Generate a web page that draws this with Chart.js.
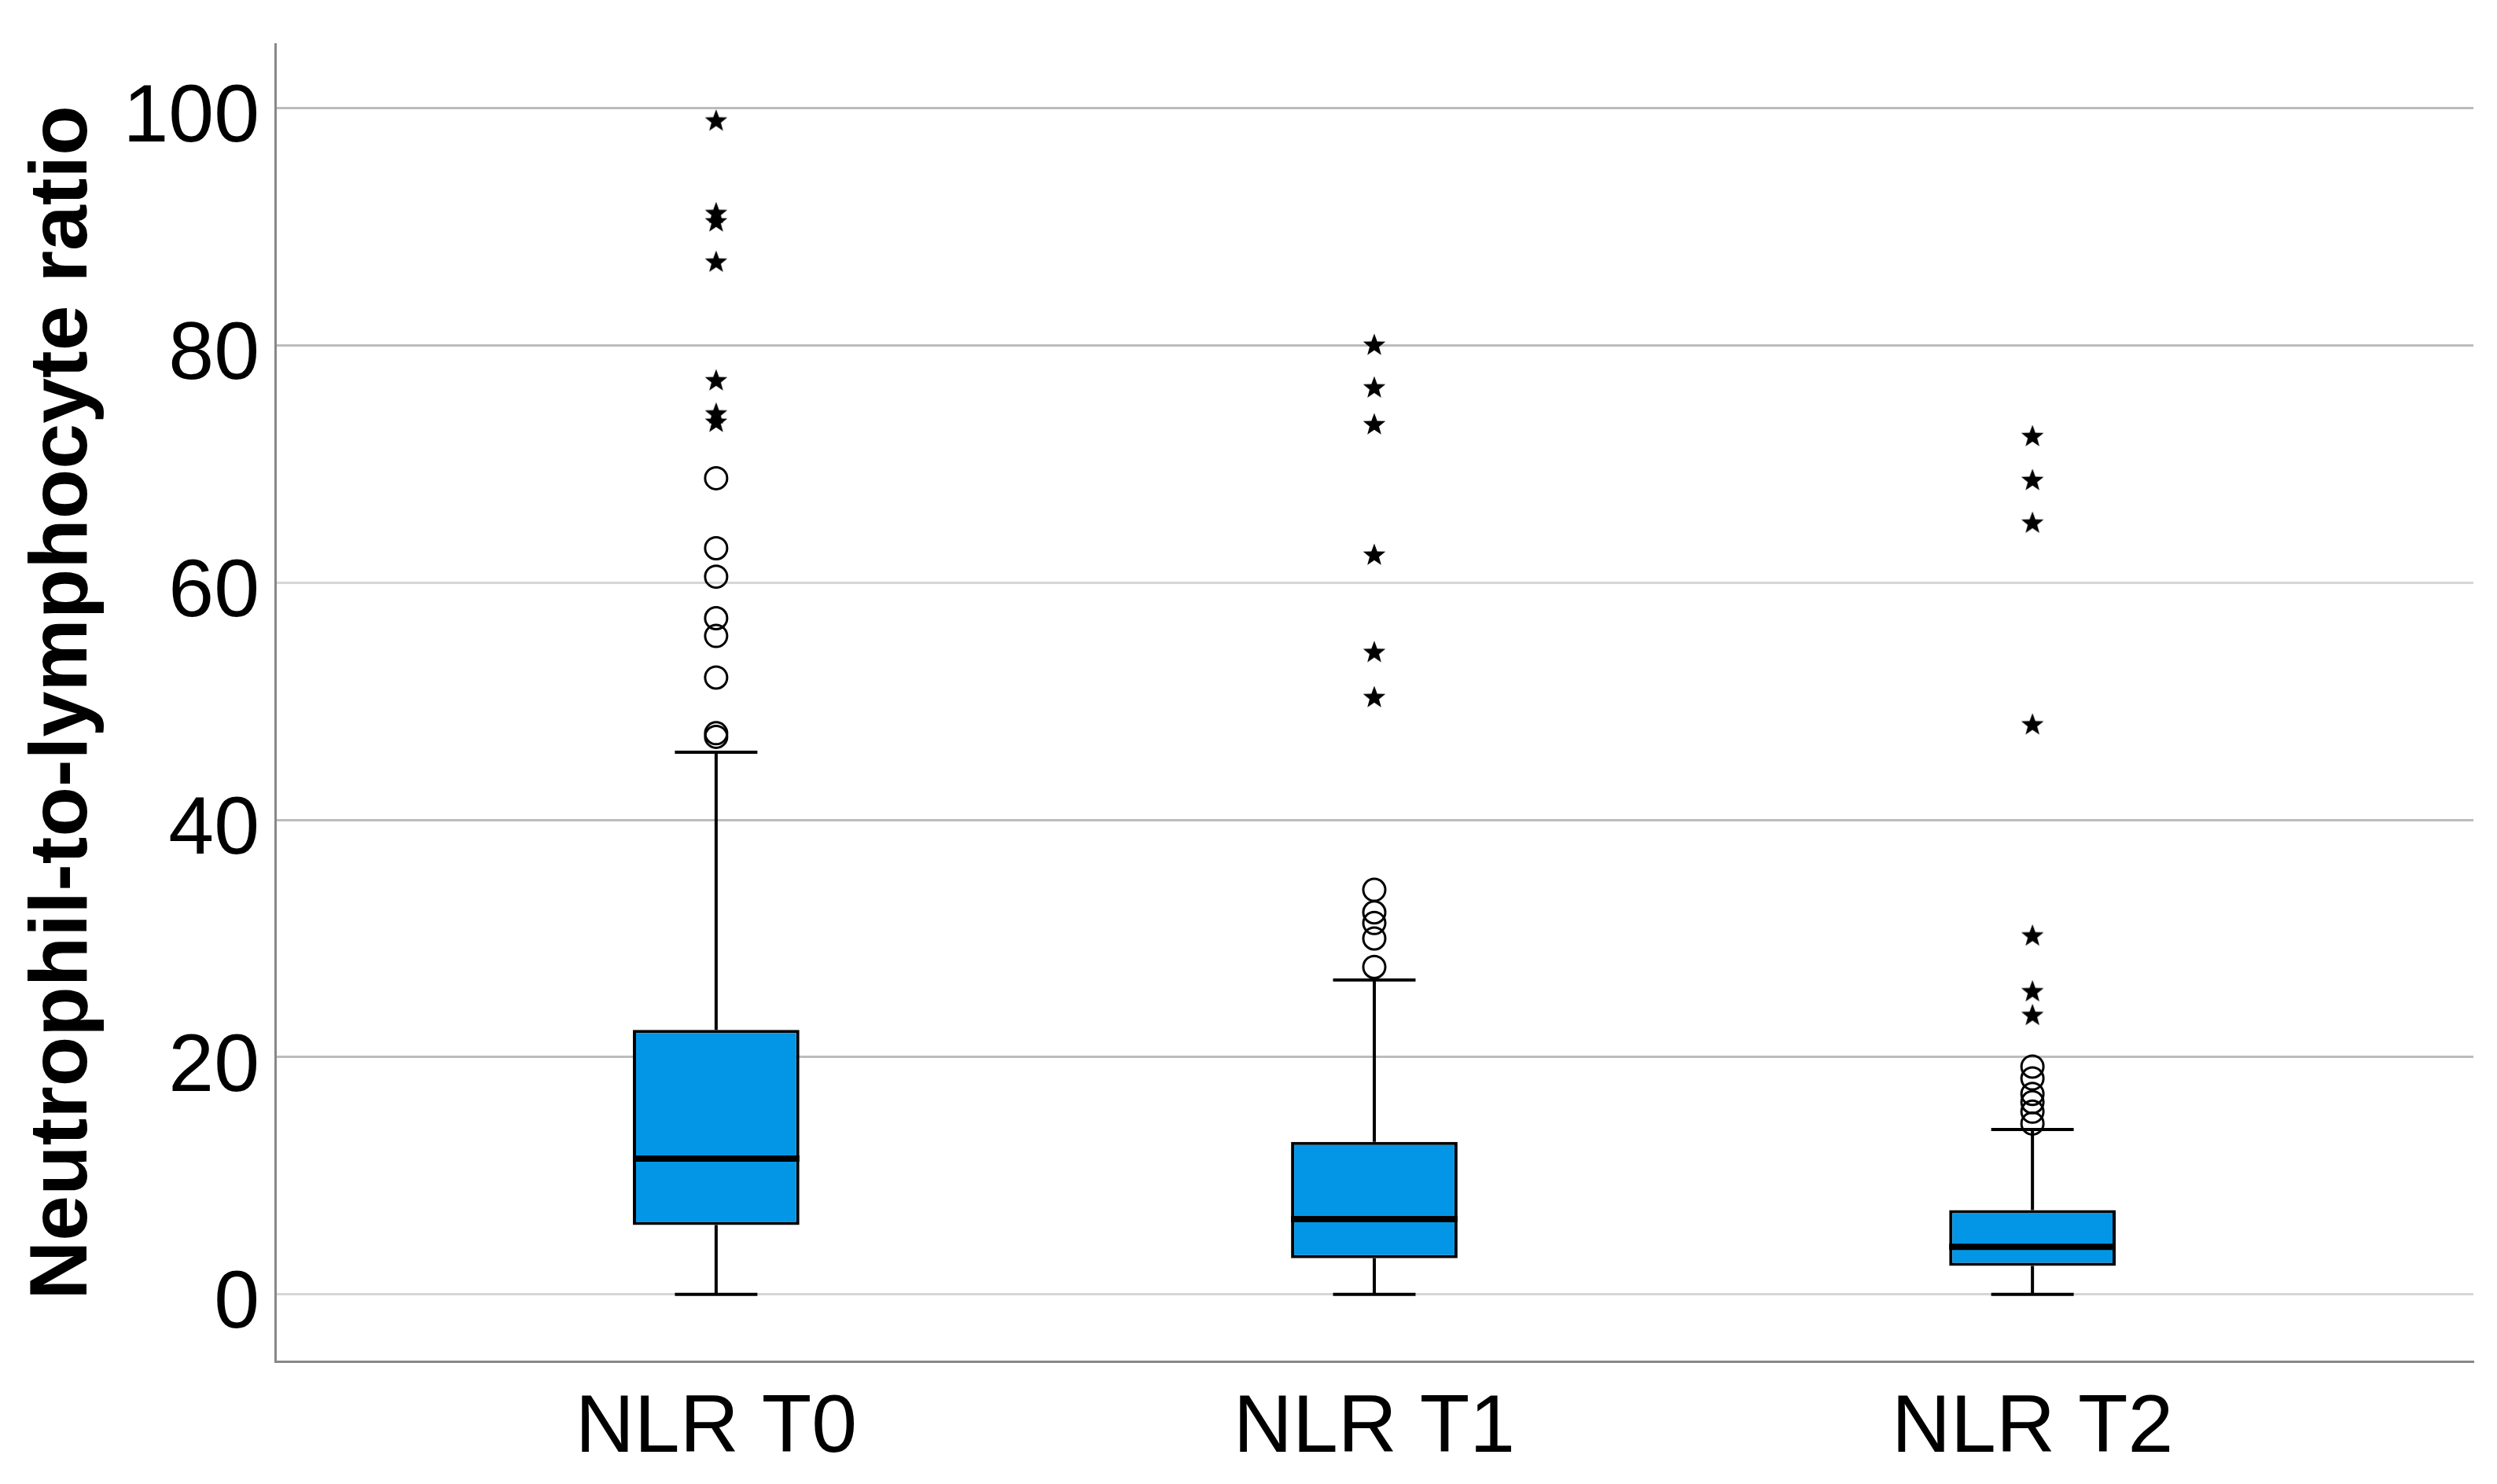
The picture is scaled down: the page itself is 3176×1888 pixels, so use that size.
<!DOCTYPE html>
<html>
<head>
<meta charset="utf-8">
<script src="https://cdn.jsdelivr.net/npm/chart.js@4.4.1/dist/chart.umd.min.js"></script>
<style>
    html, body { margin: 0; padding: 0; background: #fff; }
    #wrap { width: 3176px; height: 1888px; position: relative; }
</style>
</head>
<body>
<div id="wrap"><canvas id="boxChart"></canvas></div>
<script>
// --- Data ---
const groups = ['NLR T0', 'NLR T1', 'NLR T2'];
const whiskerLow = [0, 0, 0];
const quartile1 = [5.85, 3.05, 2.4];
const medians = [11.45, 6.34, 4.0];
const quartile3 = [22.3, 12.85, 7.1];
const whiskerHigh = [45.7, 26.5, 13.9];

// circles = outliers, stars = extreme values
const mildOutliers = [
    [68.8, 62.9, 60.5, 57.0, 55.5, 52.0, 47.3, 47.0],
    [34.1, 32.2, 31.3, 30.0, 27.6],
    [19.2, 18.2, 16.9, 16.2, 15.4, 14.4]
];
const extremeOutliers = [
    [99.0, 91.2, 90.5, 87.1, 77.1, 74.3, 73.6],
    [80.1, 76.5, 73.4, 62.4, 54.2, 50.4],
    [72.4, 68.7, 65.1, 48.1, 30.3, 25.6, 23.6]
];
const yTicks = [0, 20, 40, 60, 80, 100];

// --- Style constants ---
const BOX_WIDTH = 0.253;   // in category units
const CAP_HALF = 0.0627;
const BOX_COLOR = '#0396e6';
const FONT = "'Liberation Sans', Arial, sans-serif";

// Filled five-point star used as point image
function makeStar(r) {
    const c = document.createElement('canvas');
    const s = Math.ceil(r * 2 + 2);
    c.width = s;
    c.height = s;
    const g = c.getContext('2d');
    g.translate(s / 2, s / 2 + r * 0.1);
    g.beginPath();
    for (let k = 0; k < 10; k++) {
        const rad = k % 2 ? r * 0.42 : r;
        const a = -Math.PI / 2 + k * Math.PI / 5;
        g.lineTo(rad * Math.cos(a), rad * Math.sin(a));
    }
    g.closePath();
    g.fillStyle = '#000';
    g.fill();
    return c;
}

// Build datasets from the arrays
const boxData = groups.map((_, i) => ({ x: i, y: [quartile1[i], quartile3[i]] }));

const whiskerData = [];
groups.forEach((_, i) => {
    whiskerData.push({ x: i, y: quartile3[i] }, { x: i, y: whiskerHigh[i] }, { x: i, y: null });
    whiskerData.push({ x: i, y: quartile1[i] }, { x: i, y: whiskerLow[i] }, { x: i, y: null });
    whiskerData.push({ x: i - CAP_HALF, y: whiskerHigh[i] }, { x: i + CAP_HALF, y: whiskerHigh[i] }, { x: i, y: null });
    whiskerData.push({ x: i - CAP_HALF, y: whiskerLow[i] }, { x: i + CAP_HALF, y: whiskerLow[i] }, { x: i, y: null });
});

const medianData = [];
groups.forEach((_, i) => {
    medianData.push({ x: i - BOX_WIDTH / 2, y: medians[i] }, { x: i + BOX_WIDTH / 2, y: medians[i] }, { x: i, y: null });
});

const circleData = mildOutliers.flatMap((vals, i) => vals.map(v => ({ x: i, y: v })));
const starData = extremeOutliers.flatMap((vals, i) => vals.map(v => ({ x: i, y: v })));

const ctx = document.getElementById('boxChart').getContext('2d');
new Chart(ctx, {
    type: 'bar',
    data: {
        datasets: [
            {
                type: 'bar',
                label: 'IQR',
                data: boxData,
                backgroundColor: BOX_COLOR,
                borderColor: '#000',
                borderWidth: 4,
                borderSkipped: false,
                barPercentage: BOX_WIDTH,
                categoryPercentage: 1,
                order: 3
            },
            {
                type: 'line',
                label: 'whiskers',
                data: whiskerData,
                borderColor: '#000',
                borderWidth: 4,
                borderCapStyle: 'butt',
                pointRadius: 0,
                spanGaps: false,
                tension: 0,
                order: 2
            },
            {
                type: 'line',
                label: 'median',
                data: medianData,
                borderColor: '#000',
                borderWidth: 8,
                borderCapStyle: 'butt',
                pointRadius: 0,
                spanGaps: false,
                tension: 0,
                order: 1
            },
            {
                type: 'scatter',
                label: 'outliers',
                data: circleData,
                pointStyle: 'circle',
                pointRadius: 14,
                borderWidth: 3,
                borderColor: '#000',
                backgroundColor: 'rgba(0,0,0,0)',
                order: 0
            },
            {
                type: 'scatter',
                label: 'extremes',
                data: starData,
                pointStyle: makeStar(15),
                pointRadius: 15,
                order: 0
            }
        ]
    },
    options: {
        responsive: true,
        maintainAspectRatio: false,
        devicePixelRatio: 1,
        animation: false,
        layout: { padding: { top: 56, right: 30, left: 0, bottom: 0 } },
        plugins: {
            legend: { display: false },
            tooltip: { enabled: false }
        },
        scales: {
            x: {
                type: 'linear',
                min: -0.67,
                max: 2.67,
                offset: false,
                grid: { display: false, drawTicks: false },
                border: { color: '#888', width: 3 },
                ticks: {
                    callback: v => groups[v] ?? '',
                    font: { family: FONT, size: 104 },
                    color: '#000',
                    padding: 24,
                    maxRotation: 0,
                    autoSkip: false
                },
                afterBuildTicks: s => { s.ticks = groups.map((_, i) => ({ value: i })); },
                afterFit: s => {
                    s.height = 156;
                    s.paddingLeft = 0;
                    s.paddingRight = 0;
                }
            },
            y: {
                type: 'linear',
                min: -5.65,
                max: 105.4,
                afterBuildTicks: s => { s.ticks = yTicks.map(v => ({ value: v })); },
                afterFit: s => {
                    s.width = 350;
                    s.paddingTop = 0;
                    s.paddingBottom = 0;
                },
                grid: {
                    color: c => (c.tick && (c.tick.value === 0 || c.tick.value === 60)) ? '#d6d6d6' : '#bcbcbc',
                    lineWidth: 3,
                    drawTicks: false
                },
                border: { color: '#888', width: 3 },
                ticks: {
                    font: { family: FONT, size: 104 },
                    color: '#000',
                    padding: 20,
                    labelOffset: 14
                },
                title: {
                    display: true,
                    text: 'Neutrophil-to-lymphocyte ratio',
                    font: { family: FONT, size: 104, weight: 'bold', lineHeight: 1.2 },
                    color: '#000',
                    padding: { top: 19, bottom: 0 }
                }
            }
        }
    }
});
</script>
</body>
</html>
